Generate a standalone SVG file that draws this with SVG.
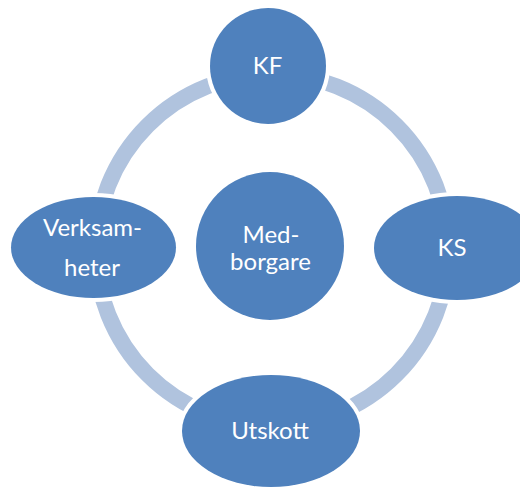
<svg xmlns="http://www.w3.org/2000/svg" width="520" height="487" viewBox="0 0 520 487">
  <style>
    .ring { fill: none; stroke: #B0C3DE; stroke-width: 16; }
    .node { fill: #4F81BD; stroke: #FFFFFF; stroke-width: 8; paint-order: stroke; }
    .label { fill: #FFFFFF; font-family: Lato, "Open Sans", "Liberation Sans", sans-serif; font-size: 24px; text-anchor: middle; }
  </style>
  <rect width="520" height="487" fill="#FFFFFF"/>

  <!-- cycle ring behind the nodes -->
  <g id="connectors">
    <circle class="ring" cx="272" cy="250" r="176"/>
  </g>

  <g id="node-kf">
    <circle class="node" cx="268" cy="66" r="58"/>
    <text class="label" x="267.5" y="74">KF</text>
  </g>

  <g id="node-ks">
    <ellipse class="node" cx="457" cy="248" rx="83" ry="52"/>
    <text class="label" x="452" y="256">KS</text>
  </g>

  <g id="node-utskott">
    <ellipse class="node" cx="271" cy="431" rx="89" ry="56"/>
    <text class="label" x="270" y="439">Utskott</text>
  </g>

  <g id="node-verksamheter">
    <ellipse class="node" cx="93.5" cy="247.5" rx="82.5" ry="50.5"/>
    <text class="label" x="92.5" y="236">Verksam-</text>
    <text class="label" x="92" y="276">heter</text>
  </g>

  <g id="node-medborgare">
    <circle class="node" cx="270" cy="246" r="74"/>
    <text class="label" x="271" y="242.5">Med-</text>
    <text class="label" x="270.5" y="270">borgare</text>
  </g>
</svg>
